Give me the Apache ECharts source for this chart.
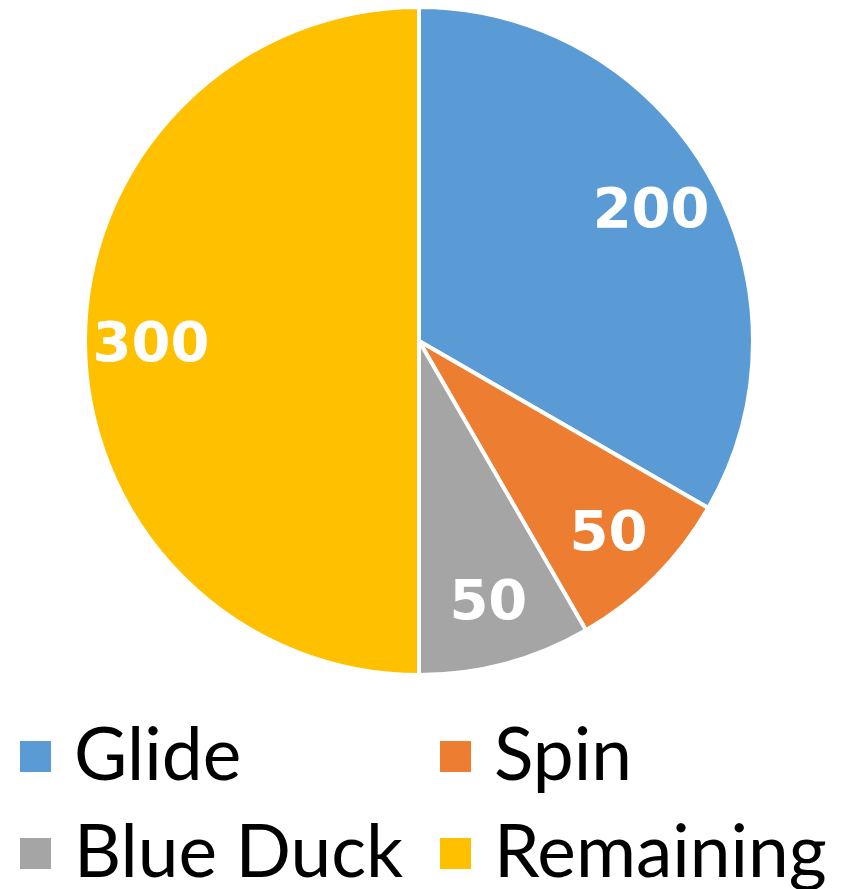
<!DOCTYPE html>
<html><head><meta charset="utf-8">
<script src="https://cdn.jsdelivr.net/npm/echarts@6/dist/echarts.min.js"></script>
<style>html,body{margin:0;padding:0;background:#fff}#c{width:853px;height:889px}</style>
</head><body><div id="c"></div>
<script>
const categories = ['Glide', 'Spin', 'Blue Duck', 'Remaining'];
const values = [200, 50, 50, 300];
const colors = ['#5B9BD5', '#ED7D31', '#A5A5A5', '#FFC000'];

const chart = echarts.init(document.getElementById('c'));
const data = categories.map((n, i) => ({ name: n, value: values[i], itemStyle: { color: colors[i] } }));
const legendPos = [[18, 720], [438, 720], [18, 817], [438, 817]];
const legends = categories.map((n, i) => ({
  data: [n], left: legendPos[i][0], top: legendPos[i][1],
  icon: 'rect', itemWidth: 33, itemHeight: 33, itemGap: 0, padding: 0,
  selectedMode: false,
  textStyle: { fontFamily: 'Lato', fontSize: 73, color: '#000', padding: [0, 0, 0, 17] }
}));
chart.setOption({
  animation: false,
  legend: legends,
  series: [
    {
      type: 'pie', center: [419, 341], radius: [0, 334], startAngle: 90, clockwise: true,
      data: data, label: { show: false }, labelLine: { show: false },
      itemStyle: { borderColor: '#fff', borderWidth: 4 }
    },
    {
      type: 'pie', center: [419, 341], radius: [196, 334], startAngle: 90, clockwise: true,
      silent: true, legendHoverLink: false,
      data: categories.map((n, i) => ({ name: n, value: values[i] })),
      itemStyle: { color: 'rgba(0,0,0,0)' },
      label: { show: true, position: 'inside', formatter: '{c}', color: '#fff',
        fontFamily: 'DejaVu Sans', fontWeight: 'bold', fontSize: 56, offset: [0, 5] },
      labelLine: { show: false }
    }
  ]
});
</script></body></html>
